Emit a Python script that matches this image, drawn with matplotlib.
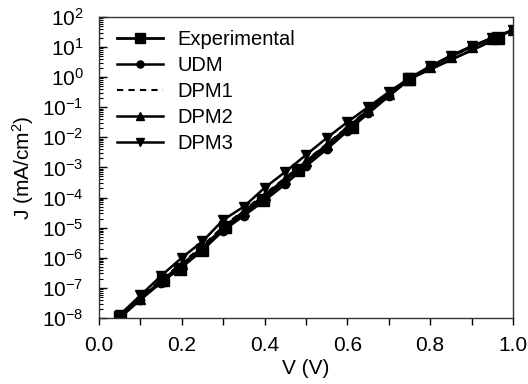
import numpy as np
import matplotlib
matplotlib.use('Agg')
import matplotlib.pyplot as plt
from matplotlib.ticker import LogLocator, MultipleLocator, NullFormatter

plt.rcParams['font.family'] = 'Liberation Sans'
plt.rcParams['mathtext.fontset'] = 'custom'
plt.rcParams['mathtext.rm'] = 'Liberation Sans'
plt.rcParams['mathtext.it'] = 'Liberation Sans'
plt.rcParams['mathtext.default'] = 'regular'

# experimental points
v_exp = [0.05, 0.155, 0.195, 0.25, 0.305, 0.395, 0.48, 0.61, 0.75, 0.965]
j_exp = [1.1e-8, 1.8e-7, 4.3e-7, 1.8e-6, 1.05e-5, 8.3e-5, 8.3e-4, 2.2e-2, 0.87, 20]

# model curves
v_mod = [0.05, 0.10, 0.15, 0.20, 0.25, 0.30, 0.35, 0.40, 0.45, 0.50,
         0.55, 0.60, 0.65, 0.70, 0.75, 0.80, 0.85, 0.90, 0.95, 1.00]
j_udm = [1.0e-8, 4.0e-8, 1.5e-7, 5.0e-7, 1.8e-6, 7.9e-6, 2.5e-5, 7.9e-5, 2.8e-4, 1.1e-3,
         4.0e-3, 1.6e-2, 6.3e-2, 0.24, 0.83, 2.1, 5.0, 10.5, 20, 35.5]
j_dpm1 = [1.1e-8, 4.8e-8, 1.9e-7, 6.6e-7, 2.5e-6, 1.1e-5, 3.8e-5, 1.3e-4, 4.5e-4, 1.7e-3,
          6.0e-3, 2.2e-2, 8.3e-2, 0.28, 0.89, 2.2, 5.0, 10.5, 20, 35.5]
j_dpm2 = [1.07e-8, 4.4e-8, 1.7e-7, 6.0e-7, 2.2e-6, 1.0e-5, 3.5e-5, 1.2e-4, 4.2e-4, 1.6e-3,
          5.6e-3, 2.1e-2, 7.9e-2, 0.27, 0.83, 2.1, 4.8, 10, 19, 35.5]
j_dpm3 = [1.26e-8, 5.6e-8, 2.5e-7, 1.0e-6, 3.5e-6, 1.8e-5, 5.0e-5, 2.1e-4, 7.1e-4, 2.6e-3,
          9.5e-3, 3.2e-2, 0.1, 0.32, 0.93, 2.3, 5.2, 10.5, 20, 37]

fig = plt.figure(figsize=(5.28, 3.84), dpi=100)
ax = fig.add_axes([0.1875, 0.172, 0.784, 0.784])

ax.plot(v_exp, j_exp, 'k-', marker='s', ms=9, lw=2, label='Experimental')
ax.plot(v_mod, j_udm, 'k-', marker='o', ms=6, lw=1.8, label='UDM')
ax.plot(v_mod, j_dpm1, 'k--', lw=1.5, dashes=(3, 2.5), label='DPM1')
ax.plot(v_mod, j_dpm2, 'k-', marker='^', ms=7, lw=1.8, label='DPM2')
ax.plot(v_mod, j_dpm3, 'k-', marker='v', ms=7, lw=1.8, label='DPM3')

ax.set_yscale('log')
ax.set_xlim(0, 1.0)
ax.set_ylim(1e-8, 1e2)
ax.xaxis.set_major_locator(MultipleLocator(0.2))
ax.xaxis.set_minor_locator(MultipleLocator(0.1))
ax.xaxis.set_major_formatter(plt.FormatStrFormatter('%.1f'))
ax.yaxis.set_major_locator(LogLocator(base=10, numticks=20))
ax.yaxis.set_minor_locator(LogLocator(base=10, subs=np.arange(2, 10), numticks=20))
ax.yaxis.set_minor_formatter(NullFormatter())

ax.tick_params(axis='x', which='both', direction='out', length=5, width=1, labelsize=15, pad=8)
ax.tick_params(axis='y', which='major', direction='in', length=6, width=1, labelsize=15, pad=11)
ax.tick_params(axis='y', which='minor', direction='in', length=3, width=0.8)
for s in ax.spines.values():
    s.set_linewidth(1)
    s.set_color('#333333')

ax.set_xlabel('V (V)', fontsize=15, labelpad=3)
ax.set_ylabel('J (mA/cm$^2$)', fontsize=15, labelpad=4)

leg = ax.legend(loc='upper left', bbox_to_anchor=(0.012, 1.0), frameon=False,
                fontsize=14.5, handlelength=2.3, handletextpad=0.7,
                labelspacing=0.35, borderaxespad=0.25, markerscale=0.85)

fig.savefig('out.png', dpi=100)
